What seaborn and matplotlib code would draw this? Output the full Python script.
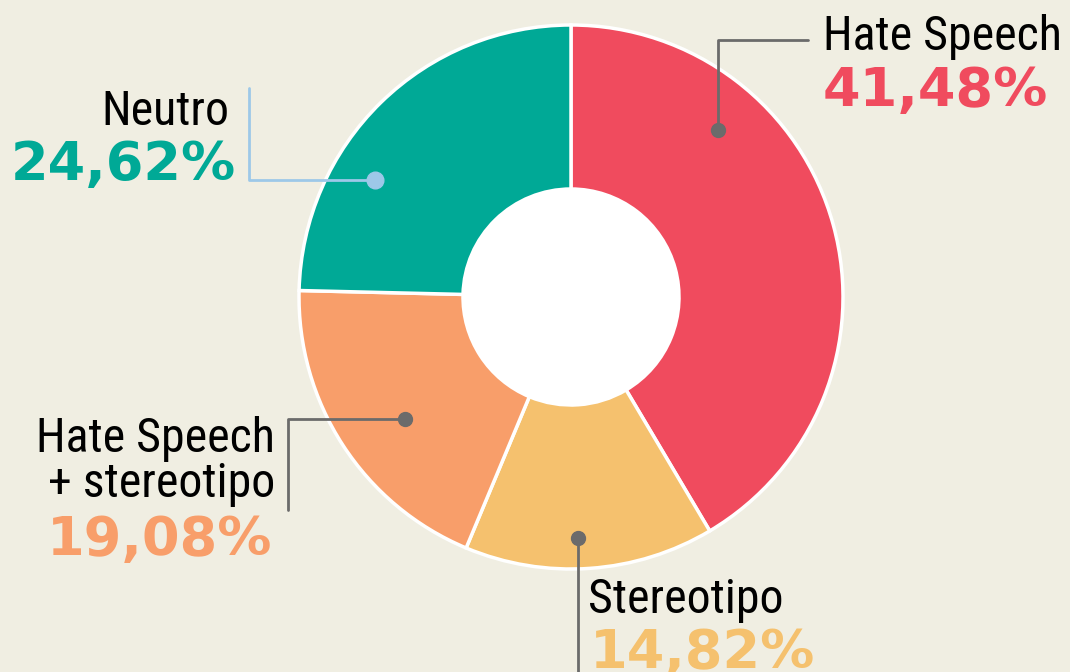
import matplotlib.pyplot as plt
import seaborn as sns
from matplotlib import font_manager as fm
from matplotlib.patches import Circle

# Data
labels = ['Hate Speech', 'Stereotipo', 'Hate Speech\n+ stereotipo', 'Neutro']
values = [41.48, 14.82, 19.08, 24.62]
pct_text = ['41,48%', '14,82%', '19,08%', '24,62%']
colors = ['#F04B5E', '#F5C16E', '#F89E6A', '#00A996']

bg = '#F0EEE2'
W, H = 1070, 672

sns.set_theme(style='white')
plt.rcParams['font.family'] = ['DejaVu Sans']

# pick a narrow font for the labels if one is installed
lab_font = None
names = {f.name for f in fm.fontManager.ttflist}
for n in ['Roboto Condensed', 'Liberation Sans Narrow', 'Arial Narrow', 'Open Sans Condensed']:
    if n in names:
        lab_font = fm.FontProperties(family=n)
        break
if lab_font is None:
    for f in fm.fontManager.ttflist:
        if f.name == 'DejaVu Sans' and 'Condensed' in f.fname and 'Bold' not in f.fname \
                and 'Oblique' not in f.fname:
            lab_font = fm.FontProperties(fname=f.fname)
            break
if lab_font is None:
    lab_font = fm.FontProperties(family='Roboto')

fig = plt.figure(figsize=(10.7, 6.72), dpi=100, facecolor=bg)
ax = fig.add_axes([0, 0, 1, 1])
ax.set_facecolor(bg)

# donut (center/radius in pixel units, y measured from top)
cx, cy = 571, H - 297
ax.pie(values, colors=colors, startangle=90, counterclock=False,
       center=(cx, cy), radius=272, frame=True,
       wedgeprops=dict(width=164, edgecolor='white', linewidth=2.5))
ax.add_patch(Circle((cx, cy), 108, color='white', zorder=3))
ax.set_xlim(0, W)
ax.set_ylim(0, H)
ax.set_aspect('equal')
ax.axis('off')

# fit the label size so "Hate Speech" is about 239 px wide
renderer = fig.canvas.get_renderer()
probe = ax.text(0, 0, 'Hate Speech', fontproperties=lab_font, fontsize=37)
w = probe.get_window_extent(renderer).width
probe.remove()
lab_size = min(37, 37 * 239 / w)


def yy(y):
    return H - y


gray = '#6B6B6B'
blue = '#9DC8E8'
lab_kw = dict(fontproperties=lab_font, fontsize=lab_size, color='black', va='baseline')
pct_kw = dict(fontsize=39, fontweight='bold', va='baseline', family='DejaVu Sans')

# Hate Speech
ax.plot([718, 718, 808], [yy(130), yy(40), yy(40)], color=gray, lw=2, zorder=4)
ax.plot(718, yy(130), 'o', color=gray, ms=10, zorder=4)
ax.text(823, yy(50), labels[0], ha='left', **lab_kw)
ax.text(823, yy(106), pct_text[0], ha='left', color=colors[0], **pct_kw)

# Stereotipo
ax.plot([578, 578], [yy(538), yy(680)], color=gray, lw=2, zorder=4)
ax.plot(578, yy(538), 'o', color=gray, ms=10, zorder=4)
ax.text(588, yy(613), labels[1], ha='left', **lab_kw)
ax.text(590, yy(668), pct_text[1], ha='left', color=colors[1], **pct_kw)

# Hate Speech + stereotipo
ax.plot([405, 288, 288], [yy(419), yy(419), yy(510)], color=gray, lw=2, zorder=4)
ax.plot(405, yy(419), 'o', color=gray, ms=10, zorder=4)
ax.text(275, yy(452), 'Hate Speech', ha='right', **lab_kw)
ax.text(275, yy(497), '+ stereotipo', ha='right', **lab_kw)
ax.text(272, yy(555), pct_text[2], ha='right', color=colors[2], **pct_kw)

# Neutro
ax.plot([249, 249, 375], [yy(88), yy(180), yy(180)], color=blue, lw=2, zorder=4)
ax.plot(375, yy(180), 'o', color=blue, ms=12, zorder=4)
ax.text(229, yy(125), labels[3], ha='right', **lab_kw)
ax.text(236, yy(180), pct_text[3], ha='right', color=colors[3], **pct_kw)

fig.savefig('out.png', dpi=100, facecolor=bg)
